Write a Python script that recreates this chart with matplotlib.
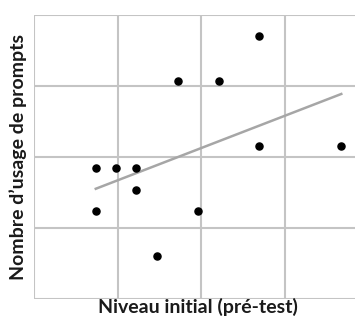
import numpy as np
import matplotlib.pyplot as plt

# pre-test level vs number of prompt uses
niveau_initial = [0.74, 0.98, 1.22, 1.22, 0.74, 1.96, 1.47, 1.72, 2.21, 2.70, 2.70, 3.68]
usage_prompts = [1.84, 1.84, 1.84, 1.54, 1.24, 1.24, 0.61, 3.07, 3.07, 3.70, 2.15, 2.15]

x_ticks = [0, 1, 2, 3, 4]
y_ticks = [0, 1, 2, 3, 4]

plt.rcParams['font.family'] = ['Lato', 'DejaVu Sans']

fig = plt.figure(figsize=(3.55, 3.25), dpi=100)
# axes run past the right edge of the figure, as in the original crop
ax = fig.add_axes([34 / 355, 26 / 325, 334 / 355, 284 / 325])

grid_col = '#c4c4c4'
for t in x_ticks:
    ax.axvline(t, color=grid_col, lw=1.5, zorder=1)
for t in y_ticks:
    ax.axhline(t, color=grid_col, lw=1.5, zorder=1)

# linear trend
p = np.polyfit(niveau_initial, usage_prompts, 1)
xs = np.array([min(niveau_initial), max(niveau_initial)])
ax.plot(xs, np.polyval(p, xs), color='#a6a6a6', lw=1.8, zorder=2)

ax.scatter(niveau_initial, usage_prompts, s=26, color='black', zorder=3)

ax.set_xlim(0, 4)
ax.set_ylim(0, 4)
ax.set_xticks([])
ax.set_yticks([])
for s in ax.spines.values():
    s.set_visible(False)

fig.text(198 / 355, 1 - 307 / 325, 'Niveau initial (pré-test)', ha='center', va='center',
         fontsize=14, fontweight='bold', color='#1a1a1a')
fig.text(18 / 355, 1 - 157 / 325, 'Nombre d\u2019usage de prompts', ha='center', va='center',
         rotation=90, fontsize=14, fontweight='bold', color='#1a1a1a')

fig.savefig('out.png', dpi=100, facecolor='white')
